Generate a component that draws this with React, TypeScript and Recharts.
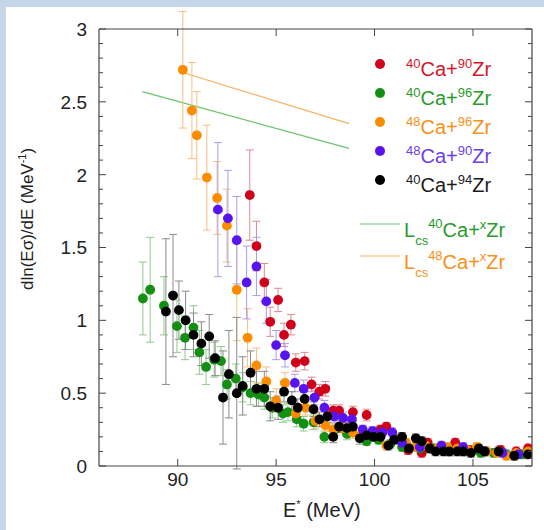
import React from 'react';
import { ComposedChart, Scatter, Line, XAxis, YAxis, ErrorBar } from 'recharts';

// Each point: [E* (MeV), dln(Eσ)/dE (MeV^-1), error]
type Pt = [number, number, number];

const ca40zr90: Pt[] = [
  [93.66, 1.86, 0.31], [94.0, 1.51, 0.17], [94.4, 1.26, 0.13], [94.7, 0.99, 0.1],
  [95.1, 1.14, 0.08], [95.4, 0.9, 0.08], [95.75, 0.97, 0.07], [96.0, 0.71, 0.06],
  [96.45, 0.72, 0.06], [96.8, 0.56, 0.05], [97.2, 0.51, 0.05], [97.5, 0.53, 0.05],
  [97.9, 0.38, 0.04], [98.2, 0.38, 0.04], [98.9, 0.37, 0.04], [99.6, 0.35, 0.04],
  [100.3, 0.25, 0.03], [100.6, 0.27, 0.03], [101.7, 0.11, 0.03], [102.4, 0.09, 0.03],
  [102.7, 0.16, 0.03], [103.6, 0.12, 0.03], [104.1, 0.16, 0.03], [104.8, 0.11, 0.03],
  [105.4, 0.1, 0.03], [106.4, 0.11, 0.03], [107.2, 0.1, 0.03], [107.8, 0.12, 0.03],
];

const ca40zr96: Pt[] = [
  [88.23, 1.15, 0.25], [88.6, 1.21, 0.36], [89.3, 1.1, 0.2], [89.96, 0.96, 0.18],
  [90.37, 0.88, 0.15], [90.8, 0.95, 0.15], [91.1, 0.78, 0.15], [91.44, 0.68, 0.12],
  [91.85, 0.73, 0.12], [92.2, 0.72, 0.1], [92.5, 0.56, 0.1], [92.95, 0.6, 0.1],
  [93.3, 0.54, 0.1], [93.7, 0.5, 0.08], [94.1, 0.49, 0.08], [94.4, 0.47, 0.08],
  [94.8, 0.4, 0.07], [95.35, 0.36, 0.06], [95.6, 0.37, 0.06], [96.05, 0.32, 0.05],
  [96.4, 0.29, 0.05], [96.9, 0.3, 0.05], [97.45, 0.2, 0.04], [98.0, 0.25, 0.04],
  [98.6, 0.22, 0.04], [99.6, 0.17, 0.03], [100.2, 0.18, 0.03], [100.8, 0.15, 0.03],
  [101.4, 0.13, 0.03], [102.3, 0.12, 0.03], [103.0, 0.12, 0.03], [103.8, 0.1, 0.03],
  [104.6, 0.1, 0.03], [105.4, 0.09, 0.03], [106.05, 0.09, 0.03], [106.7, 0.08, 0.03],
  [107.5, 0.08, 0.03],
];

const ca48zr96: Pt[] = [
  [90.26, 2.72, 0.4], [90.72, 2.44, 0.33], [90.97, 2.27, 0.3], [91.48, 1.98, 0.36],
  [92.0, 1.84, 0.25], [92.5, 1.65, 0.25], [93.0, 1.21, 0.35], [93.55, 0.88, 0.2],
  [94.0, 0.69, 0.12], [94.5, 0.58, 0.1], [95.0, 0.45, 0.08], [95.45, 0.57, 0.07],
  [96.0, 0.36, 0.06], [96.5, 0.4, 0.05], [97.0, 0.31, 0.05], [97.5, 0.28, 0.04],
  [97.9, 0.25, 0.04], [98.4, 0.26, 0.04], [98.9, 0.23, 0.04], [99.4, 0.22, 0.03],
  [99.9, 0.21, 0.03], [100.6, 0.14, 0.03], [101.1, 0.19, 0.03], [101.6, 0.16, 0.03],
  [102.1, 0.13, 0.03], [102.6, 0.14, 0.03], [103.2, 0.12, 0.03], [103.7, 0.13, 0.03],
  [104.2, 0.12, 0.03], [104.7, 0.11, 0.03], [105.2, 0.13, 0.03], [105.7, 0.1, 0.03],
  [106.2, 0.09, 0.03], [106.7, 0.07, 0.03], [107.2, 0.09, 0.03], [107.8, 0.1, 0.03],
];

const ca48zr90: Pt[] = [
  [92.04, 1.76, 0.46], [92.55, 1.7, 0.33], [93.0, 1.55, 0.3], [93.5, 1.26, 0.25],
  [94.0, 1.37, 0.2], [94.5, 1.13, 0.15], [95.0, 0.83, 0.1], [95.45, 0.76, 0.08],
  [95.95, 0.57, 0.06], [96.4, 0.53, 0.06], [96.95, 0.47, 0.05], [97.45, 0.4, 0.05],
  [97.95, 0.34, 0.04], [98.4, 0.33, 0.04], [98.85, 0.32, 0.04], [99.4, 0.25, 0.03],
  [99.9, 0.24, 0.03], [100.4, 0.23, 0.03], [100.9, 0.23, 0.03], [101.4, 0.16, 0.03],
  [102.3, 0.13, 0.03], [103.4, 0.14, 0.03], [104.5, 0.13, 0.03], [105.6, 0.1, 0.03],
  [106.5, 0.09, 0.03], [107.3, 0.08, 0.03],
];

const ca40zr94: Pt[] = [
  [89.4, 1.06, 0.5], [89.76, 1.17, 0.42], [90.06, 1.07, 0.2], [90.4, 1.0, 0.2],
  [90.8, 0.9, 0.15], [91.2, 0.84, 0.15], [91.6, 0.89, 0.15], [91.9, 0.74, 0.12],
  [92.3, 0.47, 0.32], [92.6, 0.63, 0.3], [93.0, 0.5, 0.52], [93.3, 0.55, 0.2],
  [93.7, 0.64, 0.15], [94.0, 0.53, 0.12], [94.4, 0.53, 0.12], [94.7, 0.41, 0.1],
  [95.1, 0.4, 0.08], [95.4, 0.51, 0.07], [95.8, 0.45, 0.06], [96.1, 0.4, 0.06],
  [96.45, 0.46, 0.05], [96.9, 0.39, 0.05], [97.2, 0.32, 0.05], [97.6, 0.34, 0.04],
  [97.9, 0.2, 0.04], [98.2, 0.27, 0.04], [98.6, 0.26, 0.04], [98.9, 0.27, 0.04],
  [99.25, 0.19, 0.04], [99.6, 0.21, 0.03], [99.95, 0.2, 0.03], [100.3, 0.2, 0.03],
  [100.7, 0.14, 0.03], [101.0, 0.18, 0.03], [101.4, 0.2, 0.03], [101.75, 0.12, 0.03],
  [102.1, 0.19, 0.03], [102.4, 0.17, 0.03], [102.8, 0.12, 0.03], [103.1, 0.1, 0.03],
  [103.5, 0.1, 0.03], [103.8, 0.1, 0.03], [104.2, 0.1, 0.03], [104.5, 0.1, 0.03],
  [104.9, 0.09, 0.03], [105.3, 0.12, 0.03], [105.6, 0.1, 0.03], [106.3, 0.1, 0.03],
  [107.1, 0.07, 0.03], [107.8, 0.08, 0.03],
];

// Lcs reference lines
const lcsCa40 = [{ x: 88.2, y: 2.57 }, { x: 98.7, y: 2.18 }];
const lcsCa48 = [{ x: 90.3, y: 2.7 }, { x: 98.7, y: 2.35 }];

const xDomain: [number, number] = [86, 108];
const yDomain: [number, number] = [0, 3];
const xTicks = [90, 95, 100, 105];
const yTicks = Array.from({ length: 31 }, (_, i) => i / 10);

const FONT = '"Liberation Sans", Arial, Helvetica, sans-serif';
const AXIS = '#444';
const TICK_TEXT = '#222';

// plot box (chart margins + axis sizes)
const PLOT = { left: 99, top: 29, right: 532, bottom: 466 };
const frameX = (v: number) =>
  PLOT.left + ((v - xDomain[0]) / (xDomain[1] - xDomain[0])) * (PLOT.right - PLOT.left);
const frameY = (v: number) =>
  PLOT.bottom - ((v - yDomain[0]) / (yDomain[1] - yDomain[0])) * (PLOT.bottom - PLOT.top);

const series = [
  { name: 'ca40zr90', data: ca40zr90, color: '#d0021b', bar: '#de8a94' },
  { name: 'ca40zr96', data: ca40zr96, color: '#139013', bar: '#8ccc8c' },
  { name: 'ca48zr96', data: ca48zr96, color: '#fb8c00', bar: '#f7bf80' },
  { name: 'ca48zr90', data: ca48zr90, color: '#5714ee', bar: '#a89cf2' },
  { name: 'ca40zr94', data: ca40zr94, color: '#000000', bar: '#8a8a8a' },
];

const toRows = (pts: Pt[]) => pts.map(([x, y, e]) => ({ x, y, e }));

const isMajor = (v: number) => Math.abs(v * 2 - Math.round(v * 2)) < 1e-6;
const fmt = (v: number) => String(Math.round(v * 10) / 10);

const LeftTick = ({ x, y, payload }: any) => {
  const major = isMajor(payload.value);
  return (
    <g>
      <line x1={x} x2={x + (major ? 7 : 4)} y1={y} y2={y} stroke={AXIS} />
      {major && (
        <text x={x - 12} y={y} dy="0.36em" textAnchor="end" fontSize={19} fill={TICK_TEXT} fontFamily={FONT}>
          {fmt(payload.value)}
        </text>
      )}
    </g>
  );
};

const BottomTick = ({ x, y, payload }: any) => (
  <g>
    <line x1={x} x2={x} y1={y} y2={y - 7} stroke={AXIS} />
    <text x={x} y={y + 7} dy="0.71em" textAnchor="middle" fontSize={19} fill={TICK_TEXT} fontFamily={FONT}>
      {payload.value}
    </text>
  </g>
);

const makeDot = (color: string) => (props: any) => {
  const { cx, cy } = props;
  if (cx == null || cy == null) return <g />;
  return <circle cx={cx} cy={cy} r={4.9} fill={color} />;
};

const legendRows = [
  { a: '40', b: '90', color: '#d2162a', dot: '#d0021b' },
  { a: '40', b: '96', color: '#2a9a2a', dot: '#139013' },
  { a: '48', b: '96', color: '#f7901a', dot: '#fb8c00' },
  { a: '48', b: '90', color: '#6a3ee6', dot: '#5714ee' },
  { a: '40', b: '94', color: '#1a1a1a', dot: '#000000' },
];

const lcsRows = [
  { a: '40', color: '#2a9a2a', line: '#6cc36c' },
  { a: '48', color: '#f7901a', line: '#f8b262' },
];

export default function App() {
  return (
    <div style={{ position: 'absolute', left: 0, top: 0, width: 544, height: 530, background: '#c6d6ea' }}>
      <div style={{ position: 'absolute', left: 6, top: 7, right: 0, bottom: 0, background: '#ffffff' }} />
      <div style={{ position: 'absolute', left: 0, top: 0 }}>
        <ComposedChart width={544} height={530} margin={{ top: 29, right: 12, bottom: 24, left: 39 }}>
          <XAxis
            xAxisId="b"
            dataKey="x"
            type="number"
            orientation="bottom"
            domain={xDomain}
            ticks={xTicks}
            allowDataOverflow
            height={40}
            tickSize={0}
            tickMargin={0}
            tickLine={false}
            tick={<BottomTick />}
            interval={0}
            axisLine={{ stroke: AXIS, strokeWidth: 1.2 }}
          />
          <YAxis
            yAxisId="l"
            type="number"
            orientation="left"
            domain={yDomain}
            ticks={yTicks}
            allowDataOverflow
            width={60}
            tickSize={0}
            tickMargin={0}
            tickLine={false}
            tick={<LeftTick />}
            interval={0}
            axisLine={{ stroke: AXIS, strokeWidth: 1.2 }}
          />
          <Line
            xAxisId="b"
            yAxisId="l"
            data={lcsCa40}
            dataKey="y"
            stroke="#6cc36c"
            strokeWidth={1.2}
            dot={false}
            isAnimationActive={false}
          />
          <Line
            xAxisId="b"
            yAxisId="l"
            data={lcsCa48}
            dataKey="y"
            stroke="#f8b262"
            strokeWidth={1.2}
            dot={false}
            isAnimationActive={false}
          />
          {series.map((s) => (
            <Scatter
              key={s.name}
              xAxisId="b"
              yAxisId="l"
              data={toRows(s.data)}
              dataKey="y"
              fill={s.color}
              shape={makeDot(s.color)}
              isAnimationActive={false}
            >
              <ErrorBar dataKey="e" direction="y" width={4} stroke={s.bar} strokeWidth={1} isAnimationActive={false} />
            </Scatter>
          ))}
        </ComposedChart>
      </div>
      <svg
        width={544}
        height={530}
        style={{ position: 'absolute', left: 0, top: 0, pointerEvents: 'none' }}
        fontFamily={FONT}
      >
        {/* top and right edges of the frame, with mirrored ticks */}
        <line x1={PLOT.left} x2={PLOT.right} y1={PLOT.top} y2={PLOT.top} stroke={AXIS} strokeWidth={1.2} />
        <line x1={PLOT.right} x2={PLOT.right} y1={PLOT.top} y2={PLOT.bottom} stroke={AXIS} strokeWidth={1.2} />
        {xTicks.map((t) => (
          <line key={`tt${t}`} x1={frameX(t)} x2={frameX(t)} y1={PLOT.top} y2={PLOT.top + 7} stroke={AXIS} />
        ))}
        {yTicks.map((v) => (
          <line
            key={`rt${v}`}
            x1={PLOT.right - (isMajor(v) ? 7 : 4)}
            x2={PLOT.right}
            y1={frameY(v)}
            y2={frameY(v)}
            stroke={AXIS}
          />
        ))}
        {/* axis titles */}
        <text transform="translate(33,290) rotate(-90)" fontSize={17} fill="#222">
          <tspan>dln(Eσ)/dE  (MeV</tspan>
          <tspan fontSize={11} dy={-7}>-1</tspan>
          <tspan dy={7}>)</tspan>
        </text>
        <text x={283} y={517} fontSize={20} fill="#222">
          <tspan>E</tspan>
          <tspan fontSize={11} dy={-9}>*</tspan>
          <tspan dy={9}> (MeV)</tspan>
        </text>
        {/* legend: data sets */}
        {legendRows.map((r, i) => {
          const cy = 64 + i * 29;
          return (
            <g key={i}>
              <circle cx={380} cy={cy} r={5} fill={r.dot} />
              <text x={406} y={cy + 12} fontSize={20} fill={r.color}>
                <tspan fontSize={13} dy={-8}>{r.a}</tspan>
                <tspan dy={8}>Ca+</tspan>
                <tspan fontSize={13} dy={-8}>{r.b}</tspan>
                <tspan dy={8}>Zr</tspan>
              </text>
            </g>
          );
        })}
        {/* legend: Lcs lines */}
        {lcsRows.map((r, i) => {
          const ly = 224 + i * 32;
          return (
            <g key={i}>
              <line x1={360} x2={400} y1={ly} y2={ly} stroke={r.line} strokeWidth={1.2} />
              <text x={404} y={ly + 13} fontSize={20} fill={r.color}>
                <tspan>L</tspan>
                <tspan fontSize={13} dy={8}>cs</tspan>
                <tspan fontSize={13} dy={-17}>{r.a}</tspan>
                <tspan dy={9}>Ca+</tspan>
                <tspan fontSize={13} dy={-8}>x</tspan>
                <tspan dy={8}>Zr</tspan>
              </text>
            </g>
          );
        })}
      </svg>
    </div>
  );
}
